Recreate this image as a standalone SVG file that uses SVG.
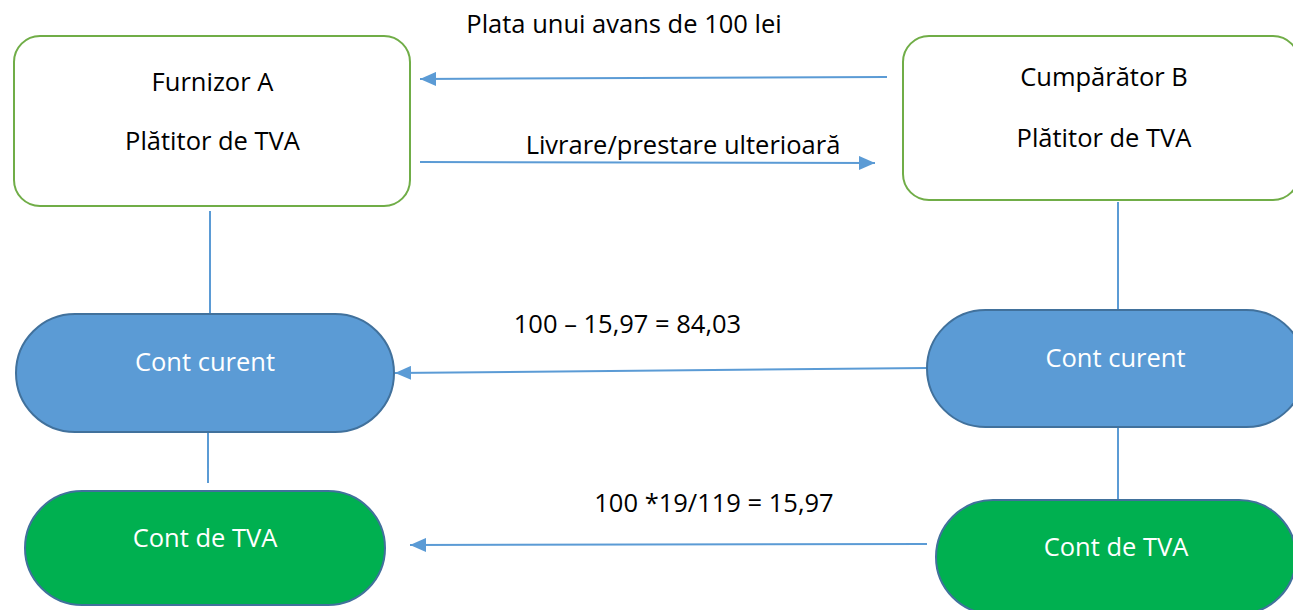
<svg xmlns="http://www.w3.org/2000/svg" width="1293" height="610" viewBox="0 0 1293 610">
<style>
text{font-family:"Open Sans","Liberation Sans",sans-serif;font-size:25.5px;text-anchor:middle;fill:#000}
.w{fill:#fff}
.box{fill:#fff;stroke:#70AD47;stroke-width:2}
.blue{fill:#5B9BD5;stroke:#41719C;stroke-width:2}
.green{fill:#00B050;stroke:#41719C;stroke-width:2}
.c{stroke:#5B9BD5;stroke-width:2;fill:none}
</style>
<defs>
<marker id="ah" viewBox="0 0 16 14" refX="16" refY="7" markerWidth="16" markerHeight="14" markerUnits="userSpaceOnUse" orient="auto">
<path d="M0,0 L16,7 L0,14 z" fill="#5B9BD5"/>
</marker>
</defs>
<rect width="1293" height="610" fill="#fff"/>
<g id="connectors">
<line class="c" x1="887" y1="77" x2="420" y2="79" marker-end="url(#ah)"/>
<line class="c" x1="420" y1="162" x2="875" y2="163" marker-end="url(#ah)"/>
<line class="c" x1="927" y1="368" x2="395" y2="373" marker-end="url(#ah)"/>
<line class="c" x1="927" y1="544" x2="410" y2="545" marker-end="url(#ah)"/>
<line class="c" x1="210" y1="211" x2="210" y2="313"/>
<line class="c" x1="208" y1="433" x2="208" y2="483"/>
<line class="c" x1="1118" y1="202" x2="1118" y2="310"/>
<line class="c" x1="1118" y1="428" x2="1118" y2="500"/>
<text x="624" y="33">Plata unui avans de 100 lei</text>
<text x="683" y="154">Livrare/prestare ulterioară</text>
<text x="627.5" y="333">100 – 15,97 = 84,03</text>
<text x="714" y="512">100 *19/119 = 15,97</text>
</g>
<g id="furnizor">
<rect class="box" x="14" y="36" width="396" height="170" rx="26"/>
<text x="212.5" y="91">Furnizor A</text>
<text x="212.5" y="150">Plătitor de TVA</text>
</g>
<g id="cumparator">
<rect class="box" x="903" y="36" width="396" height="164" rx="26"/>
<text x="1104" y="86">Cumpărător B</text>
<text x="1104" y="147">Plătitor de TVA</text>
</g>
<g id="cont-curent-a">
<rect class="blue" x="16" y="314" width="378" height="118" rx="59"/>
<text class="w" x="205" y="371">Cont curent</text>
</g>
<g id="cont-tva-a">
<rect class="green" x="25" y="491" width="360" height="114" rx="57"/>
<text class="w" x="205" y="547">Cont de TVA</text>
</g>
<g id="cont-curent-b">
<rect class="blue" x="927" y="310" width="378" height="117" rx="58.5"/>
<text class="w" x="1115.5" y="367">Cont curent</text>
</g>
<g id="cont-tva-b">
<rect class="green" x="936" y="500" width="360" height="114" rx="57"/>
<text class="w" x="1116" y="556">Cont de TVA</text>
</g>
</svg>
